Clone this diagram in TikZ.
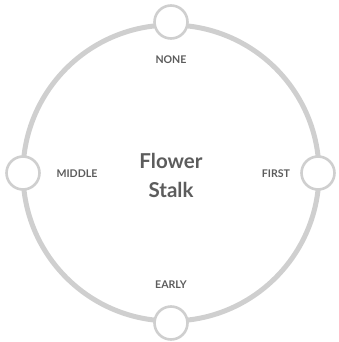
\documentclass[tikz,border=0pt]{standalone}
\usepackage{fontspec}
\setmainfont{Lato}
\definecolor{ringgray}{HTML}{CFCFCF}
\definecolor{textgray}{HTML}{5C5C5C}
\begin{document}
\begin{tikzpicture}[x=1pt, y=-1pt,
  stage/.style={circle, draw=ringgray, line width=2.6pt, fill=white, minimum size=33pt, inner sep=0pt},
  stagelabel/.style={text=textgray, font=\bfseries\fontsize{10.6}{12}\selectfont}]
\useasboundingbox (0,0) rectangle (338,342);
\draw[ringgray, line width=5pt] (171,173) circle (148);
\node[stage] (none) at (171,22) {};
\node[stage] (first) at (318,173) {};
\node[stage] (early) at (171,323) {};
\node[stage] (middle) at (23,173) {};
\node[stagelabel] (lnone) at (171,60) {NONE};
\node[stagelabel] (lfirst) at (276,174) {FIRST};
\node[stagelabel] (learly) at (171,285) {EARLY};
\node[stagelabel] (lmiddle) at (77,174) {MIDDLE};
\node[text=textgray, font=\bfseries\fontsize{20.5}{29}\selectfont, align=center] (stalk) at (171,175) {Flower\\Stalk};
\end{tikzpicture}
\end{document}
